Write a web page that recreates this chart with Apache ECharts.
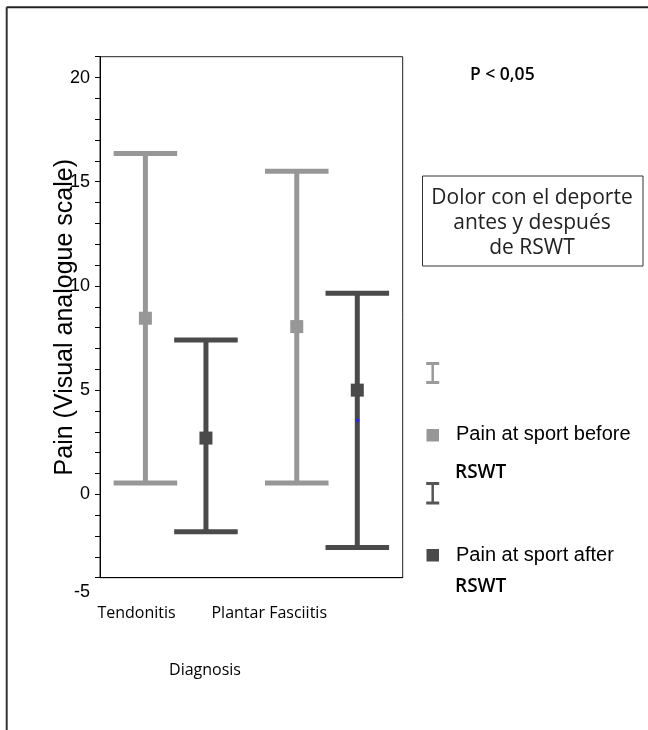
<!DOCTYPE html>
<html>
<head>
<meta charset="utf-8">
<script src="https://cdn.jsdelivr.net/npm/echarts@6/dist/echarts.min.js"></script>
<style>html,body{margin:0;padding:0;background:#fff;}#chart{width:648px;height:730px;}</style>
</head>
<body>
<div id="chart"></div>
<script>
// ---- data ----
const categories = ['Tendonitis', 'Plantar Fasciitis'];
// [low, mean, high] per category
const beforeLow  = [0.55, 0.55];
const beforeMean = [8.45, 8.05];
const beforeHigh = [16.35, 15.5];
const afterLow   = [-1.8, -2.55];
const afterMean  = [2.7, 5.0];
const afterHigh  = [7.4, 9.65];
const strayDot   = [[1, 3.55]];           // small blue speck seen in the reference
const yLabelValues = [0, 5, 10, 15, 20];
const yBottomLabel = '-5';
const yMin = -4, yMax = 21;

const colBefore = '#979797';
const colAfter = '#4a4a4a';

function barData(lo, mid, hi) {
  return categories.map((c, i) => [i, lo[i], mid[i], hi[i]]);
}

function makeRender(sign, color) {
  return function (params, api) {
    const c = api.value(0);
    const lo = api.coord([c, api.value(1)]);
    const mid = api.coord([c, api.value(2)]);
    const hi = api.coord([c, api.value(3)]);
    const band = api.size([1, 0])[0];
    const x = lo[0] + sign * band * 0.2;
    const half = band * 0.21;
    const sq = 13;
    return {
      type: 'group',
      children: [
        { type: 'line', shape: { x1: x, y1: hi[1], x2: x, y2: lo[1] }, style: { stroke: color, lineWidth: 5 } },
        { type: 'line', shape: { x1: x - half, y1: hi[1], x2: x + half, y2: hi[1] }, style: { stroke: color, lineWidth: 5 } },
        { type: 'line', shape: { x1: x - half, y1: lo[1], x2: x + half, y2: lo[1] }, style: { stroke: color, lineWidth: 5 } },
        { type: 'rect', shape: { x: x - sq / 2, y: mid[1] - sq / 2, width: sq, height: sq }, style: { fill: color } }
      ]
    };
  };
}

function renderDot(params, api) {
  const p = api.coord([api.value(0), api.value(1)]);
  const band = api.size([1, 0])[0];
  const x = p[0] + band * 0.2;
  return { type: 'rect', shape: { x: x - 2, y: p[1] - 1.5, width: 4, height: 3 }, style: { fill: '#2a2ad8' } };
}

const chart = echarts.init(document.getElementById('chart'), null, { renderer: 'canvas' });

const legendIcon = (cx, y1, y2, color) => ([
  { type: 'line', shape: { x1: cx, y1: y1, x2: cx, y2: y2 }, style: { stroke: color, lineWidth: 2.5 } },
  { type: 'line', shape: { x1: cx - 6.5, y1: y1, x2: cx + 6.5, y2: y1 }, style: { stroke: color, lineWidth: 3 } },
  { type: 'line', shape: { x1: cx - 6.5, y1: y2, x2: cx + 6.5, y2: y2 }, style: { stroke: color, lineWidth: 3 } }
]);

const option = {
  backgroundColor: '#fff',
  animation: false,
  grid: { left: 100, top: 56.7, right: 245.3, bottom: 152.3, show: true, borderColor: '#222', borderWidth: 1 },
  xAxis: {
    type: 'category',
    data: categories,
    boundaryGap: true,
    axisLine: { onZero: false, lineStyle: { color: '#000', width: 1 } },
    axisTick: { alignWithLabel: true, length: 5, lineStyle: { color: '#000' } },
    axisLabel: { align: 'right', margin: 28, color: '#000', fontFamily: 'Open Sans', fontSize: 16 },
    splitLine: { show: false }
  },
  yAxis: {
    type: 'value',
    min: yMin, max: yMax, interval: 1,
    name: 'Pain (Visual analogue scale)',
    nameLocation: 'middle',
    nameGap: 22,
    nameMoveOverlap: false,
    nameTextStyle: { fontFamily: 'Liberation Sans', fontSize: 25, color: '#000' },
    axisLine: { show: true, onZero: false, lineStyle: { color: '#000', width: 1 } },
    axisTick: { show: true, length: 5, lineStyle: { color: '#000' } },
    splitLine: { show: false },
    axisLabel: {
      margin: 10,
      color: '#000',
      fontFamily: 'Liberation Sans',
      fontSize: 18,
      showMinLabel: true,
      showMaxLabel: true,
      formatter: function (v) {
        if (v === yMin) return '{low|' + yBottomLabel + '}';
        return yLabelValues.indexOf(v) >= 0 ? String(v) : '';
      },
      rich: { low: { padding: [28, 0, 0, 0], fontFamily: 'Liberation Sans', fontSize: 18, color: '#000' } }
    }
  },
  series: [
    { name: 'Pain at sport before RSWT', type: 'custom', renderItem: makeRender(-1, colBefore), data: barData(beforeLow, beforeMean, beforeHigh), encode: { x: 0, y: [1, 2, 3] }, z: 3 },
    { name: 'Pain at sport after RSWT', type: 'custom', renderItem: makeRender(1, colAfter), data: barData(afterLow, afterMean, afterHigh), encode: { x: 0, y: [1, 2, 3] }, z: 3 },
    { name: 'speck', type: 'custom', renderItem: renderDot, data: strayDot, encode: { x: 0, y: 1 }, z: 4 }
  ],
  graphic: [
    // outer frame (top and left edges)
    { type: 'line', shape: { x1: 6.5, y1: 7.3, x2: 648, y2: 7.3 }, style: { stroke: '#222', lineWidth: 2 } },
    { type: 'line', shape: { x1: 6.7, y1: 7.3, x2: 6.7, y2: 730 }, style: { stroke: '#333', lineWidth: 2 } },
    // annotation
    { type: 'text', x: 470, y: 75, style: { text: 'P < 0,05', fontFamily: 'Open Sans', fontWeight: 600, fontSize: 17.5, fill: '#000', textVerticalAlign: 'middle' } },
    { type: 'rect', shape: { x: 422.5, y: 176, width: 220.5, height: 90 }, style: { fill: 'none', stroke: '#333', lineWidth: 1 } },
    { type: 'text', x: 532, y: 223, style: { text: 'Dolor con el deporte\nantes y después\nde RSWT', fontFamily: 'Open Sans', fontSize: 21, lineHeight: 25, fill: '#222', textAlign: 'center', textVerticalAlign: 'middle' } },
    // axis title
    { type: 'text', x: 205, y: 670, style: { text: 'Diagnosis', fontFamily: 'Open Sans', fontSize: 16, fill: '#000', textAlign: 'center', textVerticalAlign: 'middle' } },
    // legend
    ...legendIcon(432.7, 363.5, 382.5, '#9a9a9a'),
    { type: 'rect', shape: { x: 426.5, y: 429, width: 12.5, height: 12.5 }, style: { fill: colBefore } },
    { type: 'text', x: 456, y: 434.5, style: { text: 'Pain at sport before', fontFamily: 'Liberation Sans', fontSize: 20, fill: '#000', textVerticalAlign: 'middle' } },
    { type: 'text', x: 455, y: 473, style: { text: 'RSWT', fontFamily: 'Open Sans', fontWeight: 600, fontSize: 19, fill: '#000', textVerticalAlign: 'middle' } },
    ...legendIcon(432.7, 483.5, 503, '#555'),
    { type: 'rect', shape: { x: 426.5, y: 549, width: 12.5, height: 12.5 }, style: { fill: colAfter } },
    { type: 'text', x: 456, y: 555, style: { text: 'Pain at sport after', fontFamily: 'Liberation Sans', fontSize: 20, fill: '#000', textVerticalAlign: 'middle' } },
    { type: 'text', x: 455, y: 587, style: { text: 'RSWT', fontFamily: 'Open Sans', fontWeight: 600, fontSize: 19, fill: '#000', textVerticalAlign: 'middle' } }
  ]
};
chart.setOption(option);
</script>
</body>
</html>
